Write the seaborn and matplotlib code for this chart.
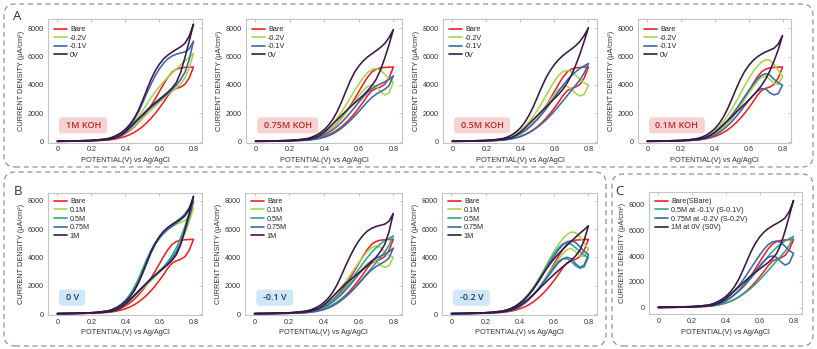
import matplotlib
matplotlib.use("Agg")
import matplotlib.pyplot as plt
from matplotlib.patches import FancyBboxPatch
from matplotlib.transforms import IdentityTransform
import pandas as pd
import seaborn as sns

# Potential grid (V vs Ag/AgCl) on which every sweep is sampled
POTENTIAL = [0.0, 0.1, 0.2, 0.25, 0.3, 0.325, 0.35, 0.375, 0.4, 0.425, 0.45, 0.475,
             0.5, 0.525, 0.55, 0.575, 0.6, 0.625, 0.65, 0.675, 0.7, 0.725, 0.75, 0.775, 0.8]

# Current density (uA/cm2): forward (anodic) and return sweeps
BARE_FWD = [30, 45, 80, 115, 170, 230, 310, 420, 570, 770, 1020, 1320, 1670, 2070, 2520,
            3020, 3550, 4070, 4550, 4920, 5120, 5210, 5240, 5260, 5270]
BARE_REV = [20, 30, 55, 80, 120, 160, 210, 280, 370, 490, 640, 830, 1060, 1330, 1640,
            1990, 2380, 2800, 3250, 3600, 3760, 3860, 4050, 4500, 5270]

M1_0V_FWD = [30, 50, 90, 140, 220, 320, 460, 640, 880, 1200, 1620, 2180, 2880, 3640, 4380,
             5000, 5480, 5850, 6120, 6330, 6520, 6700, 6950, 7450, 8300]
M1_0V_REV = [20, 35, 65, 100, 150, 210, 300, 470, 700, 1000, 1300, 1600, 1900, 2200, 2500,
             2750, 3000, 3250, 3500, 3800, 4200, 4900, 5950, 7100, 8300]
M1_N01_FWD = [30, 50, 90, 140, 220, 300, 420, 590, 820, 1120, 1520, 2050, 2700, 3400, 4050,
              4650, 5150, 5550, 5850, 6050, 6180, 6260, 6340, 6550, 7100]
M1_N01_REV = [20, 35, 65, 100, 150, 210, 290, 420, 640, 920, 1230, 1540, 1850, 2150, 2400,
              2650, 2900, 3150, 3400, 3700, 4000, 4400, 4900, 5800, 7100]
M1_N02_FWD = [30, 50, 90, 140, 210, 290, 400, 560, 770, 1030, 1350, 1730, 2170, 2640, 3100,
              3520, 3900, 4240, 4560, 4860, 5140, 5420, 5700, 5950, 6230]
M1_N02_REV = [20, 35, 65, 100, 150, 210, 290, 420, 600, 820, 1060, 1330, 1620, 1930, 2230,
              2520, 2800, 3070, 3330, 3570, 3800, 4100, 4500, 5200, 6230]

M075_0V_FWD = [30, 50, 90, 140, 220, 310, 440, 620, 860, 1180, 1600, 2150, 2830, 3580, 4300,
               4900, 5350, 5700, 5980, 6200, 6420, 6650, 6930, 7350, 7920]
M075_0V_REV = [20, 35, 65, 100, 150, 210, 300, 460, 680, 960, 1260, 1560, 1860, 2160, 2460,
               2730, 3000, 3280, 3600, 3950, 4400, 5050, 5900, 6850, 7920]
M075_N01_FWD = [30, 45, 80, 110, 160, 210, 280, 370, 490, 650, 850, 1090, 1370, 1690, 2040,
                2420, 2800, 3160, 3480, 3740, 3930, 4080, 4220, 4400, 4650]
M075_N01_REV = [20, 30, 50, 70, 100, 130, 170, 230, 310, 420, 560, 740, 960, 1210, 1490,
                1800, 2130, 2480, 2820, 3120, 3350, 3530, 3700, 3950, 4650]
M075_N02_FWD = [30, 50, 90, 130, 200, 270, 370, 520, 720, 980, 1300, 1680, 2120, 2600, 3100,
                3600, 4080, 4520, 4880, 5100, 5160, 5050, 4750, 4420, 4200]
M075_N02_REV = [20, 35, 60, 90, 140, 190, 260, 370, 530, 740, 1000, 1300, 1640, 2020, 2420,
                2830, 3250, 3620, 3900, 4000, 3900, 3550, 3300, 3450, 4200]

M05_0V_FWD = [30, 50, 90, 140, 230, 330, 480, 690, 970, 1350, 1850, 2450, 3150, 3850, 4500,
              5020, 5450, 5800, 6080, 6320, 6540, 6780, 7080, 7500, 8050]
M05_0V_REV = [20, 35, 65, 100, 150, 210, 300, 460, 680, 950, 1250, 1550, 1850, 2150, 2450,
              2750, 3050, 3350, 3700, 4150, 4700, 5400, 6200, 7100, 8050]
M05_N01_FWD = [30, 45, 80, 115, 170, 230, 310, 420, 570, 760, 990, 1260, 1570, 1920, 2300,
               2710, 3140, 3570, 3980, 4350, 4670, 4940, 5170, 5350, 5520]
M05_N01_REV = [20, 30, 50, 75, 110, 150, 200, 270, 360, 480, 630, 810, 1020, 1260, 1530,
               1830, 2160, 2510, 2880, 3250, 3620, 3990, 4370, 4850, 5520]
M05_N02_FWD = [30, 50, 90, 135, 210, 290, 400, 560, 780, 1050, 1380, 1770, 2220, 2720, 3250,
               3780, 4280, 4680, 4950, 5020, 4920, 4680, 4400, 4150, 4000]
M05_N02_REV = [20, 35, 60, 90, 140, 190, 260, 370, 530, 740, 1000, 1310, 1670, 2070, 2500,
               2930, 3350, 3700, 3900, 3900, 3700, 3400, 3230, 3330, 4000]

M01_0V_FWD = [30, 50, 90, 140, 230, 330, 470, 670, 930, 1280, 1740, 2320, 3000, 3720, 4380,
              4940, 5380, 5720, 5980, 6180, 6340, 6460, 6600, 6900, 7500]
M01_0V_REV = [20, 35, 65, 100, 150, 210, 300, 450, 660, 920, 1200, 1480, 1770, 2060, 2350,
              2640, 2940, 3250, 3580, 3960, 4420, 5000, 5700, 6500, 7500]
M01_N01_FWD = [30, 45, 85, 125, 190, 260, 350, 480, 660, 890, 1170, 1500, 1870, 2280, 2720,
               3170, 3610, 4020, 4400, 4680, 4800, 4700, 4400, 4150, 4000]
M01_N01_REV = [20, 30, 55, 85, 130, 175, 240, 330, 460, 640, 860, 1120, 1420, 1760, 2130,
               2520, 2900, 3250, 3550, 3750, 3720, 3450, 3300, 3400, 4000]
M01_N02_FWD = [30, 50, 95, 140, 220, 300, 410, 570, 790, 1070, 1420, 1830, 2300, 2820, 3370,
               3920, 4450, 4920, 5320, 5620, 5780, 5750, 5450, 5000, 4600]
M01_N02_REV = [20, 35, 60, 95, 145, 200, 270, 380, 540, 750, 1010, 1320, 1680, 2080, 2520,
               2970, 3420, 3850, 4250, 4550, 4620, 4400, 4100, 4050, 4600]

CURVES = {
    "bare": (BARE_FWD, BARE_REV),
    "M1_0V": (M1_0V_FWD, M1_0V_REV), "M1_N01": (M1_N01_FWD, M1_N01_REV), "M1_N02": (M1_N02_FWD, M1_N02_REV),
    "M075_0V": (M075_0V_FWD, M075_0V_REV), "M075_N01": (M075_N01_FWD, M075_N01_REV),
    "M075_N02": (M075_N02_FWD, M075_N02_REV),
    "M05_0V": (M05_0V_FWD, M05_0V_REV), "M05_N01": (M05_N01_FWD, M05_N01_REV), "M05_N02": (M05_N02_FWD, M05_N02_REV),
    "M01_0V": (M01_0V_FWD, M01_0V_REV), "M01_N01": (M01_N01_FWD, M01_N01_REV), "M01_N02": (M01_N02_FWD, M01_N02_REV),
}

KOH_TAGS = ["1M KOH", "0.75M KOH", "0.5M KOH", "0.1M KOH"]
KOH_KEYS = ["M1", "M075", "M05", "M01"]
BIAS_TAGS = ["0 V", "-0.1 V", "-0.2 V"]
BIAS_KEYS = ["0V", "N01", "N02"]

RED, LIME, BLUE, PURPLE, TEAL = "#f41f24", "#a6d64c", "#3a6aa4", "#3b1748", "#2aa88f"

sns.set_theme(style="white")
plt.rcParams["font.family"] = ["Liberation Sans", "DejaVu Sans"]

W, H = 817, 349
fig = plt.figure(figsize=(W / 100, H / 100), dpi=100)


def add_axes_px(l, t, r, b):
    return fig.add_axes([l / W, 1 - b / H, (r - l) / W, (b - t) / H])


def draw_panel(ax, series, ylim, legend_dy):
    rows = []
    for label, key, _ in series:
        fwd, rev = CURVES[key]
        xs = POTENTIAL + POTENTIAL[::-1]
        ys = list(fwd) + list(rev)[::-1]
        for i, (x, y) in enumerate(zip(xs, ys)):
            rows.append((label, i, x, y))
    df = pd.DataFrame(rows, columns=["series", "step", "E", "j"])
    sns.lineplot(data=df, x="E", y="j", hue="series",
                 hue_order=[s[0] for s in series], palette=[s[2] for s in series],
                 sort=False, estimator=None, linewidth=1.15, ax=ax)
    ax.set_xlim(-0.055, 0.85)
    ax.set_ylim(*ylim)
    ax.set_xticks([0, 0.2, 0.4, 0.6, 0.8])
    ax.set_xticklabels(["0", "0.2", "0.4", "0.6", "0.8"])
    ax.set_yticks([0, 2000, 4000, 6000, 8000])
    ax.set_xlabel("POTENTIAL(V) vs Ag/AgCl", fontsize=5.3, color="#333333", labelpad=2.5)
    ax.set_ylabel("CURRENT DENSITY (\u03bcA/cm\u00b2)", fontsize=5.3, color="#333333", labelpad=2.5)
    ax.tick_params(direction="in", length=2, width=0.5, color="#b5b5b5", top=True, right=True,
                   labelsize=5.2, labelcolor="#333333", pad=2.8)
    for sp in ax.spines.values():
        sp.set_color("#c4c4c4")
        sp.set_linewidth(0.8)
    old = ax.get_legend()
    handles = old.legend_handles
    labels = [t.get_text() for t in old.get_texts()]
    bb = ax.get_window_extent()
    leg = ax.legend(handles, labels, loc="upper left",
                    bbox_to_anchor=(6 / bb.width, 1 - legend_dy / bb.height),
                    frameon=False, fontsize=5.2, handlelength=1.75, handletextpad=0.45,
                    labelspacing=0.22, borderpad=0, borderaxespad=0)
    for h in leg.legend_handles:
        h.set_linewidth(1.2)


TAGS = []


def add_tag(ax, text, fc, tc):
    t = ax.text(0.048, 1150, text, ha="left", va="center", fontsize=6.5, color=tc,
                fontweight="semibold", family=["Open Sans", "DejaVu Sans"], zorder=6)
    TAGS.append((ax, t, fc))


A_LEFT = [48, 246, 443, 638]
A_RIGHT = [202, 402, 597, 791]
for i in range(4):
    ax = add_axes_px(A_LEFT[i], 19, A_RIGHT[i], 142.5)
    k = KOH_KEYS[i]
    series = [("Bare", "bare", RED), ("-0.2V", k + "_N02", LIME),
              ("-0.1V", k + "_N01", BLUE), ("0V", k + "_0V", PURPLE)]
    draw_panel(ax, series, (-60, 8660), 7)
    add_tag(ax, KOH_TAGS[i], "#f6d2d2", "#b8282b")

B_LEFT = [48, 245, 442]
B_RIGHT = [202, 402, 597]
for i in range(3):
    ax = add_axes_px(B_LEFT[i], 193.3, B_RIGHT[i], 315)
    b = BIAS_KEYS[i]
    series = [("Bare", "bare", RED), ("0.1M", "M01_" + b, LIME), ("0.5M", "M05_" + b, TEAL),
              ("0.75M", "M075_" + b, BLUE), ("1M", "M1_" + b, PURPLE)]
    draw_panel(ax, series, (-70, 8520), 5)
    add_tag(ax, BIAS_TAGS[i], "#cfe7f8", "#1f3a60")

ax = add_axes_px(649, 192.3, 802, 314.3)
series = [("Bare(SBare)", "bare", RED), ("0.5M at -0.1V (S-0.1V)", "M05_N01", TEAL),
          ("0.75M at -0.2V (S-0.2V)", "M075_N02", BLUE), ("1M at 0V (S0V)", "M1_0V", PURPLE)]
draw_panel(ax, series, (-510, 8930), 6)

# dashed rounded frames around the three groups
for (x0, y0, x1, y1) in [(4, 4, 813, 167), (4, 172, 606, 346), (612, 174, 813, 346)]:
    fig.add_artist(FancyBboxPatch((x0, H - y1), x1 - x0, y1 - y0,
                                  boxstyle="round,pad=0,rounding_size=11",
                                  transform=IdentityTransform(), fill=False,
                                  ec="#929292", lw=0.9, ls=(0, (4, 3))))

for letter, x, y in [("A", 13, 20), ("B", 14, 195), ("C", 615, 195)]:
    fig.text(x / W, 1 - y / H, letter, fontsize=9.5, color="#333333", va="baseline",
             ha="left", family=["Open Sans", "DejaVu Sans"])

# rounded highlight boxes behind the condition tags
fig.canvas.draw()
for ax, t, fc in TAGS:
    bb = t.get_window_extent()
    cy = (bb.y0 + bb.y1) / 2
    w = bb.width + 13
    h = 16
    ax.add_artist(FancyBboxPatch((bb.x0 - 6.5, cy - h / 2), w, h,
                                 boxstyle="round,pad=0,rounding_size=3",
                                 transform=IdentityTransform(), fc=fc, ec="none", zorder=5))

fig.savefig("out.png", dpi=100)
